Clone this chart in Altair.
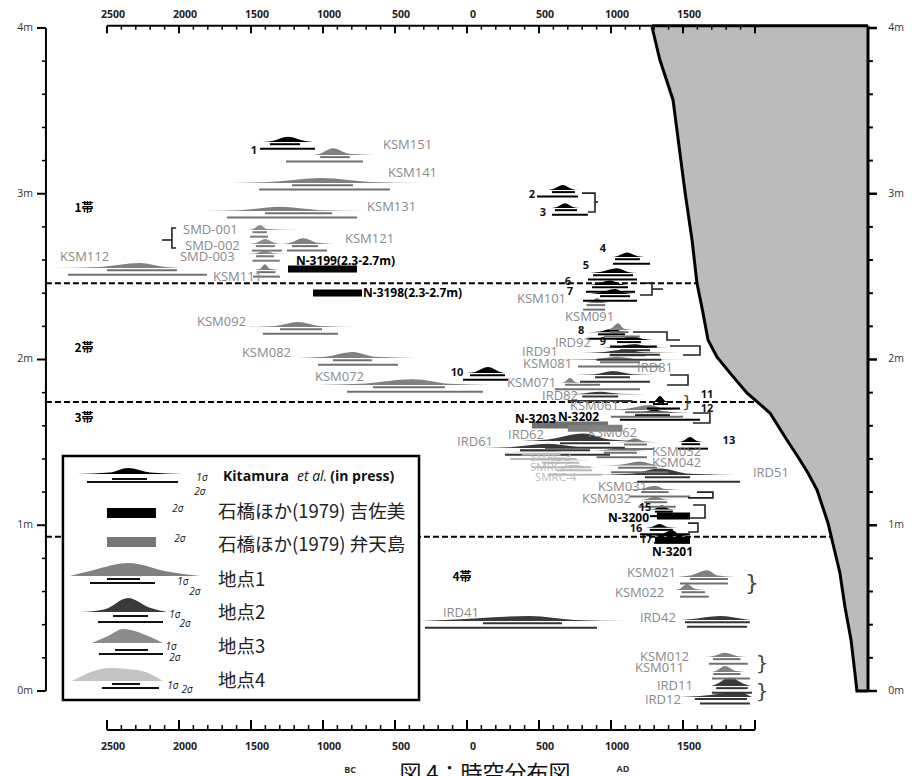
import altair as alt
import pandas as pd

# ---------------- scales (years: BC negative / depth in m) ----------------
XD = [-3243, 3153]
YD = [-0.513, 4.169]
XS = alt.Scale(domain=XD, nice=False, zero=False)
YS = alt.Scale(domain=YD, nice=False, zero=False)

# ---------------- sample data ----------------
s_name = ["1", "2", "3", "4", "5", "6", "7", "8", "9", "10", "11", "12", "13", "15", "16", "17",
          "KSM151", "KSM141", "KSM131", "KSM121", "KSM112", "KSM111", "KSM101", "KSM092", "KSM091",
          "KSM082", "KSM081", "KSM072", "KSM071", "KSM061", "KSM062", "KSM052", "KSM042", "KSM031",
          "KSM032", "KSM021", "KSM022", "KSM012", "KSM011",
          "SMD-001", "SMD-002", "SMD-003",
          "IRD92", "IRD91", "IRD81", "IRD82", "IRD62", "IRD61", "IRD51", "IRD41", "IRD42", "IRD11", "IRD12",
          "SMRC-3", "SMRC-5", "SMRC-4"]
s_group = ["K"] * 16 + ["P1"] * 23 + ["P3"] * 3 + ["P2"] * 11 + ["P4"] * 3
s_base = [3.312, 3.023, 2.914, 2.618, 2.522, 2.449, 2.395, 2.165, 2.118, 1.918, 1.744, 1.677, 1.502, 1.095, 0.985, 0.935,
          3.234, 3.065, 2.896, 2.697, 2.552, 2.540, 2.341, 2.196, 2.178, 2.009, 1.997, 1.846, 1.860, 1.695, 1.500,
          1.450, 1.360, 1.213, 1.152, 0.688, 0.609, 0.205, 0.115,
          2.781, 2.697, 2.636,
          2.069, 2.039, 1.906, 1.790, 1.508, 1.466, 1.303, 0.422, 0.428, 0.030, -0.036,
          1.440, 1.390, 1.345]
s_lo = [-1424, 563, 590, 1007, 854, 840, 854, 833, 1007, -14, 1271, 1111, 1465, 1271, 1236, 1285,
        -1069, -1632, -1840, -1278, -2875, -1472, 819, -1521, 958, -1180, 542, -1042, 646, 924, 1028,
        854, 924, 1097, 1167, 1465, 1451, 1653, 1701,
        -1521, -1507, -1576,
        924, 785, 750, 646, 368, 90, 806, -326, 1479, 1701, 1479,
        194, 368, 507]
s_a = [-1354, 597, 625, 1042, 924, 889, 910, 924, 1062, 56, 1306, 1201, 1500, 1306, 1280, 1340,
       -1020, -1368, -1576, -1229, -2549, -1437, 860, -1333, 1000, -986, 854, -743, 681, 1097, 1097,
       958, 1062, 1201, 1236, 1549, 1479, 1708, 1730,
       -1486, -1465, -1472,
       1007, 924, 889, 785, 563, 299, 1132, -153, 1549, 1730, 1618,
       350, 500, 620]
s_pk = [-1243, 667, 681, 1111, 1042, 993, 1028, 1014, 1146, 146, 1340, 1306, 1549, 1354, 1340, 1424,
        -931, -1007, -1299, -1139, -2271, -1403, 903, -1174, 1049, -792, 1042, -375, 715, 1271, 1167,
        1062, 1201, 1306, 1306, 1667, 1528, 1792, 1792,
        -1437, -1403, -1403,
        1167, 1097, 1014, 924, 806, 563, 1340, 437, 1757, 1826, 1896,
        507, 646, 750]
s_b = [-1125, 729, 736, 1187, 1118, 1076, 1097, 1076, 1222, 229, 1375, 1396, 1597, 1400, 1390, 1480,
       -820, -674, -1021, -1035, -2097, -1368, 950, -1021, 1090, -639, 1201, -118, 750, 1375, 1236,
       1167, 1306, 1375, 1375, 1743, 1583, 1880, 1860,
       -1390, -1333, -1333,
       1271, 1236, 1153, 1062, 993, 785, 1549, 750, 1931, 1931, 1965,
       650, 790, 860]
s_hi = [-1069, 771, 785, 1271, 1181, 1146, 1181, 1132, 1285, 278, 1410, 1549, 1639, 1458, 1465, 1549,
        -583, -312, -708, -931, -1993, -1299, 993, -757, 1167, -361, 1549, 160, 785, 1549, 1340,
        1271, 1410, 1479, 1479, 1861, 1653, 1951, 1931,
        -1160, -1285, -1160,
        1410, 1479, 1306, 1236, 1201, 1062, 1965, 1111, 1979, 1965, 1979,
        854, 924, 993]
s_h = [0.032, 0.03, 0.028, 0.028, 0.028, 0.028, 0.03, 0.022, 0.025, 0.036, 0.035, 0.02, 0.03, 0.025, 0.022, 0.035,
       0.04, 0.03, 0.025, 0.035, 0.03, 0.035, 0.03, 0.03, 0.04, 0.036, 0.02, 0.035, 0.03, 0.03, 0.025,
       0.02, 0.025, 0.025, 0.02, 0.04, 0.036, 0.025, 0.035,
       0.03, 0.03, 0.02,
       0.025, 0.02, 0.025, 0.015, 0.045, 0.025, 0.04, 0.03, 0.025, 0.05, 0.03,
       0.02, 0.02, 0.02]
s_1lo = [-1368, 590, 611, 1028, 875, 868, 924, 910, 1042, 21, 1292, 1167, 1490, 1306, 1270, 1330,
         -1020, -1215, -1403, -1215, -2500, -1460, 830, -1299, 990, -931, 924, -653, 681, 1097, 1090,
         950, 1050, 1210, 1230, 1549, 1490, 1708, 1710,
         -1490, -1465, -1465,
         1062, 990, 889, 800, 646, 368, 1236, 111, 1514, 1730, 1583,
         380, 520, 620]
s_1hi = [-1160, 750, 764, 1201, 1153, 1118, 1132, 1097, 1208, 264, 1396, 1410, 1618, 1430, 1430, 1500,
         -813, -792, -938, -1035, -2014, -1330, 960, -1007, 1120, -660, 1201, -153, 924, 1400, 1250,
         1180, 1320, 1400, 1390, 1812, 1653, 1900, 1900,
         -1390, -1333, -1340,
         1271, 1240, 1132, 1050, 993, 854, 1549, 660, 1965, 1950, 1944,
         650, 780, 870]
s_2lo = [-1437, 486, 590, 1014, 840, 826, 806, 833, 993, -28, 1250, 1062, 1465, 1271, 1201, 1300,
         -1257, -1444, -1667, -1250, -2771, -1486, 806, -1417, 950, -1035, 771, -833, 611, 1000, 1050,
         900, 1000, 1132, 1190, 1479, 1479, 1680, 1701,
         -1507, -1493, -1490,
         993, 900, 785, 700, 542, 264, 1181, -292, 1528, 1701, 1618,
         300, 450, 560]
s_2hi = [-1056, 771, 840, 1271, 1181, 1167, 1181, 1132, 1319, 285, 1479, 1618, 1674, 1479, 1549, 1549,
         -722, -535, -764, -972, -1806, -1299, 960, -896, 1200, -479, 1340, 111, 1201, 1500, 1300,
         1250, 1400, 1549, 1450, 1812, 1680, 1951, 1965,
         -1382, -1285, -1300,
         1340, 1350, 1271, 1150, 1097, 993, 1896, 903, 1944, 1979, 1965,
         760, 860, 940]

shape_col = {"K": "#000000", "P1": "#808080", "P2": "#3a3a3a", "P3": "#8c8c8c", "P4": "#c4c4c4"}
bar_col = {"K": "#000000", "P1": "#707070", "P2": "#333333", "P3": "#7a7a7a", "P4": "#b8b8b8"}

# Ishibashi et al. (1979) 2-sigma ranges
ib_x1 = [-1243, -1069, 1319, 1306, 451, 700]
ib_x2 = [-764, -729, 1549, 1549, 979, 1080]
ib_y = [2.546, 2.401, 1.056, 0.911, 1.605, 1.585]
ib_col = ["#000000", "#000000", "#000000", "#000000", "#707070", "#808080"]

# labels
num_text = ["1", "2", "3", "4", "5", "6", "7", "8", "9", "10", "11", "12", "13", "15", "16", "17"]
num_x = [-1480, 451, 528, 944, 826, 701, 715, 792, 944, -69, 1667, 1667, 1819, 1236, 1174, 1243]
num_y = [3.258, 2.992, 2.884, 2.667, 2.564, 2.47, 2.41, 2.17, 2.106, 1.918, 1.786, 1.70, 1.508, 1.104, 0.977, 0.911]

lab_text = ["KSM151", "KSM141", "KSM131", "KSM121", "KSM112", "KSM111", "KSM101", "KSM092", "KSM091",
            "KSM082", "KSM081", "KSM072", "KSM071", "KSM061", "KSM062", "KSM052", "KSM042", "KSM031",
            "KSM032", "KSM021", "KSM022", "KSM012", "KSM011", "SMD-001", "SMD-002", "SMD-003",
            "IRD92", "IRD91", "IRD81", "IRD82", "IRD62", "IRD61", "IRD51", "IRD41", "IRD42", "IRD11", "IRD12"]
lab_x = [-583, -549, -694, -847, -2826, -1764, 347, -1875, 681,
         -1563, 389, -1056, 278, 715, 840, 1285, 1285, 910,
         799, 1111, 1028, 1201, 1167, -1972, -1958, -1993,
         611, 382, 1181, 521, 285, -69, 1986, -167, 1201, 1319, 1236]
lab_y = [3.294, 3.125, 2.92, 2.727, 2.618, 2.498, 2.365, 2.226, 2.256,
         2.039, 1.973, 1.894, 1.858, 1.72, 1.557, 1.442, 1.376, 1.231,
         1.158, 0.712, 0.591, 0.205, 0.139, 2.781, 2.685, 2.618,
         2.099, 2.045, 1.949, 1.78, 1.544, 1.502, 1.315, 0.471, 0.44, 0.03, -0.054]

smrc_text = ["SMRC-3", "SMRC-5", "SMRC-4"]
smrc_x = [438, 438, 472]
smrc_y = [1.406, 1.345, 1.285]

n_text = ["N-3199(2.3-2.7m)", "N-3198(2.3-2.7m)", "N-3203", "N-3202", "N-3200", "N-3201"]
n_x = [-1188, -722, 333, 632, 979, 1285]
n_y = [2.594, 2.401, 1.641, 1.653, 1.044, 0.839]

band_text = ["1帯", "2帯", "3帯", "4帯"]
band_x = [-2660, -2660, -2660, -35]
band_y = [2.914, 2.069, 1.646, 0.688]

# bracket connectors
br_id = ["smd"] * 4 + ["smd_t"] * 2 + ["b23"] * 4 + ["b23t"] * 2 + ["b67"] * 4 + ["b67t"] * 2 + ["b8"] * 4 + \
        ["b9"] * 4 + ["b81"] * 4 + ["b12"] * 4 + ["b31"] * 4 + ["b15"] * 4 + ["b16"] * 4
br_x = [-2020, -2049, -2049, -2020, -2118, -2049,
        799, 889, 889, 840, 889, 910,
        1236, 1285, 1285, 1201, 1285, 1361,
        1153, 1389, 1389, 1479,
        1410, 1618, 1618, 1500,
        1410, 1535, 1535, 1389,
        1569, 1687, 1687, 1569,
        1597, 1708, 1708, 1535,
        1570, 1653, 1653, 1549,
        1535, 1604, 1604, 1535]
br_y = [2.793, 2.793, 2.673, 2.673, 2.721, 2.721,
        3.004, 3.004, 2.890, 2.890, 2.95, 2.95,
        2.461, 2.461, 2.389, 2.389, 2.425, 2.425,
        2.166, 2.166, 2.118, 2.118,
        2.081, 2.081, 2.027, 2.027,
        1.906, 1.906, 1.846, 1.846,
        1.677, 1.677, 1.617, 1.617,
        1.200, 1.200, 1.165, 1.165,
        1.122, 1.122, 1.044, 1.044,
        1.013, 1.013, 0.959, 0.959]
brace_x = [1530, 1979, 2049, 2049]
brace_y = [1.745, 0.65, 0.165, -0.005]
brace_size = [16, 22, 20, 20]

# sea (grey) boundary curve
curve_x = [1285, 1340, 1431, 1514, 1563, 1597, 1639, 1674, 1736, 1826, 1944, 2104, 2222, 2299, 2368,
           2431, 2507, 2590, 2625, 2667, 2694, 2708, 2785]
curve_y = [4.006, 3.807, 3.566, 3.011, 2.721, 2.462, 2.281, 2.118, 2.015, 1.919, 1.798, 1.677, 1.514,
           1.412, 1.315, 1.213, 1.014, 0.712, 0.507, 0.308, 0.109, 0.0, 0.0]

# zone boundaries (dashed)
zone_y = [2.46, 1.744, 0.93]
zone_end = [1600, 2020, 2530]

# axes
yr_major = [-2500, -2000, -1500, -1000, -500, 0, 500, 1000, 1500, 2000]
yr_labels = ["2500", "2000", "1500", "1000", "500", "0", "500", "1000", "1500"]
yr_minor = [v for v in range(-2500, 2001, 100) if v % 500 != 0]
d_major = [0, 1, 2, 3, 4]
d_labels = ["0m", "1m", "2m", "3m", "4m"]
d_minor = [0.2, 0.4, 0.6, 0.8, 1.2, 1.4, 1.6, 1.8, 2.2, 2.4, 2.6, 2.8, 3.2, 3.4, 3.6, 3.8]

# legend entries
lg_col = ["#000000", "#808080", "#3a3a3a", "#8c8c8c", "#c4c4c4"]
lg_base = [1.309, 0.694, 0.476, 0.289, 0.060]
lg_lo = [-2708, -2757, -2688, -2604, -2743]
lg_a = [-2479, -2597, -2514, -2493, -2569]
lg_pk = [-2354, -2354, -2354, -2389, -2479]
lg_b = [-2201, -2083, -2201, -2215, -2271]
lg_hi = [-1972, -1854, -2083, -2111, -2111]
lg_h = [0.036, 0.078, 0.085, 0.085, 0.079]
lg_sa = [0.25, 0.45, 0.2, 0.5, 0.85]
lg_sb = [0.25, 0.35, 0.3, 0.5, 0.8]
lg_1lo = [-2465, -2500, -2458, -2444, -2465]
lg_1hi = [-2222, -2271, -2215, -2215, -2271]
lg_1y = [1.279, 0.676, 0.452, 0.247, 0.042]
lg_2lo = [-2639, -2618, -2563, -2556, -2535]
lg_2hi = [-2007, -2167, -2111, -2111, -2139]
lg_2y = [1.261, 0.652, 0.416, 0.223, 0.018]
sig_text = ["1σ", "2σ", "2σ", "2σ", "1σ", "2σ", "1σ", "2σ", "1σ", "2σ", "1σ", "2σ"]
sig_x = [-1840, -1854, -2007, -1993, -1972, -1889, -2028, -1958, -2055, -2028, -2042, -1944]
sig_y = [1.285, 1.20, 1.098, 0.917, 0.658, 0.597, 0.458, 0.404, 0.265, 0.199, 0.030, 0.006]
jp_text = ["石橋ほか(1979) 吉佐美", "石橋ほか(1979) 弁天島", "地点1", "地点2", "地点3", "地点4"]
jp_y = [1.080, 0.880, 0.670, 0.470, 0.265, 0.060]


# ---------------- helpers ----------------
def ex(f="x"):
    return alt.X(f"{f}:Q", scale=XS, axis=None)


def ey(f="y"):
    return alt.Y(f"{f}:Q", scale=YS, axis=None, stack=None)


def mountain_df(ids, cols, base, lo, a, pk, b, hi, h, sa, sb):
    rows = []
    for i in range(len(ids)):
        for xx, fr in [(lo[i], 0), (a[i], sa[i]), (pk[i], 1), (b[i], sb[i]), (hi[i], 0)]:
            rows.append(dict(sid=ids[i], x=xx, y=base[i] + fr * h[i], y0=base[i], c=cols[i]))
    return pd.DataFrame(rows)


def area_layer(df):
    return alt.Chart(df).mark_area(interpolate="monotone").encode(
        x=ex(), y=ey(), y2=alt.Y2("y0"), detail="sid:N", color=alt.Color("c:N", scale=None))


def rule_layer(df, **kw):
    return alt.Chart(df).mark_rule(**kw).encode(
        x=ex("x"), x2=alt.X2("x2"), y=ey("y"), y2=alt.Y2("y2"), color=alt.Color("c:N", scale=None),
        size=alt.Size("w:Q", scale=None))


def text_layer(t, x, y, **kw):
    df = pd.DataFrame({"t": t, "x": x, "y": y})
    return alt.Chart(df).mark_text(**kw).encode(x=ex(), y=ey(), text="t:N")


def seg(x1, x2, y1, y2, c, w):
    return dict(x=x1, x2=x2, y=y1, y2=y2, c=c, w=w)


LAT = "Open Sans"
JP = "Noto Sans CJK JP"
layers = []

# dashed zone lines
dash_df = pd.DataFrame([seg(-2924, zone_end[i], zone_y[i], zone_y[i], "#000000", 2) for i in range(3)])
layers.append(rule_layer(dash_df, strokeDash=[6, 3]))

# grey sea area and its boundary
cdf = pd.DataFrame({"x": curve_x, "y": curve_y, "top": [4.012] * len(curve_x), "o": list(range(len(curve_x)))})
layers.append(alt.Chart(cdf).mark_area(color="#bbbbbb").encode(x=ex(), y=ey(), y2=alt.Y2("top")))
layers.append(alt.Chart(cdf).mark_line(color="black", strokeWidth=3).encode(x=ex(), y=ey(), order="o:Q"))

# sample distributions
n = len(s_name)
mdf = mountain_df(s_name, [shape_col[g] for g in s_group], s_base, s_lo, s_a, s_pk, s_b, s_hi, s_h,
                  [0.2] * n, [0.2] * n)
layers.append(area_layer(mdf))
bars = []
for i in range(n):
    c = bar_col[s_group[i]]
    bars.append(seg(s_1lo[i], s_1hi[i], s_base[i] - 0.013, s_base[i] - 0.013, c, 2))
    bars.append(seg(s_2lo[i], s_2hi[i], s_base[i] - 0.04, s_base[i] - 0.04, c, 2))
for i in range(len(ib_x1)):
    bars.append(seg(ib_x1[i], ib_x2[i], ib_y[i], ib_y[i], ib_col[i], 7))
layers.append(rule_layer(pd.DataFrame(bars), strokeCap="butt"))

# brackets
bdf = pd.DataFrame({"b": br_id, "x": br_x, "y": br_y, "o": list(range(len(br_x)))})
layers.append(alt.Chart(bdf).mark_line(color="#222222", strokeWidth=1.6).encode(
    x=ex(), y=ey(), detail="b:N", order="o:Q"))
for i in range(len(brace_x)):
    layers.append(text_layer(["}"], [brace_x[i]], [brace_y[i]], font="DejaVu Sans", fontSize=brace_size[i],
                             color="#444444", align="center", baseline="middle"))

# labels
layers.append(text_layer(lab_text, lab_x, lab_y, font=LAT, fontSize=13, color="#8a8a8a",
                         align="left", baseline="middle"))
layers.append(text_layer(smrc_text, smrc_x, smrc_y, font=LAT, fontSize=11.5, color="#bdbdbd",
                         align="left", baseline="middle"))
layers.append(text_layer(num_text, num_x, num_y, font=LAT, fontSize=11, color="#111111",
                         align="center", baseline="middle", fontWeight="bold"))
layers.append(text_layer(n_text, n_x, n_y, font=LAT, fontSize=12, color="#000000",
                         align="left", baseline="middle", fontWeight="bold"))
layers.append(text_layer(band_text, band_x, band_y, font=JP, fontSize=12, color="#000000",
                         align="center", baseline="middle", fontWeight="bold"))

# axes
ax = []
ax.append(seg(-2500, 1285, 4.014, 4.014, "#000000", 2))
ax.append(seg(1285, 2785, 4.014, 4.014, "#000000", 3))
ax.append(seg(-2500, 2000, -0.235, -0.235, "#000000", 2))
ax.append(seg(-2924, -2924, 0, 4.0, "#000000", 2))
ax.append(seg(2785, 2785, 0, 4.014, "#000000", 3))
for v in yr_major:
    ax.append(seg(v, v, 4.014, 3.968, "#000000", 2))
    ax.append(seg(v, v, -0.235, -0.175, "#000000", 2))
for v in yr_minor:
    ax.append(seg(v, v, 4.014, 3.99, "#000000", 1.5))
    ax.append(seg(v, v, -0.235, -0.205, "#000000", 1.5))
for v in d_major:
    ax.append(seg(-2986, -2924, v, v, "#000000", 2))
    ax.append(seg(2785, 2847, v, v, "#000000", 2.5))
for v in d_minor:
    ax.append(seg(-2952, -2924, v, v, "#000000", 1.5))
    ax.append(seg(2785, 2819, v, v, "#000000", 2))
layers.append(rule_layer(pd.DataFrame(ax), strokeCap="butt"))
layers.append(text_layer(yr_labels, yr_major[:9], [4.08] * 9, font=LAT, fontSize=10.5, color="#222222",
                         align="center", baseline="middle", dx=6, fontWeight="bold"))
layers.append(text_layer(yr_labels, yr_major[:9], [-0.338] * 9, font=LAT, fontSize=10.5, color="#222222",
                         align="center", baseline="middle", dx=6, fontWeight="bold"))
layers.append(text_layer(d_labels, [-3014] * 5, d_major, font=LAT, fontSize=10.5, color="#333333",
                         align="right", baseline="middle"))
layers.append(text_layer(d_labels, [2925] * 5, d_major, font=LAT, fontSize=10.5, color="#333333",
                         align="left", baseline="middle"))
layers.append(text_layer(["BC", "AD"], [-812, 1083], [-0.475, -0.47], font=LAT, fontSize=9,
                         color="#333333", align="center", baseline="middle", fontWeight="bold"))
layers.append(text_layer(["図 4：時空分布図"], [125], [-0.50], font=JP, fontSize=22, color="#111111",
                         align="center", baseline="middle"))

# legend
box = pd.DataFrame({"x": [-2806], "x2": [-333], "y": [-0.054], "y2": [1.418]})
layers.append(alt.Chart(box).mark_rect(fill="white", stroke="black", strokeWidth=2.5).encode(
    x=ex(), x2=alt.X2("x2"), y=ey(), y2=alt.Y2("y2")))
ldf = mountain_df(["L%d" % i for i in range(5)], lg_col, lg_base, lg_lo, lg_a, lg_pk, lg_b, lg_hi, lg_h,
                  lg_sa, lg_sb)
layers.append(area_layer(ldf))
lbars = []
for i in range(5):
    lbars.append(seg(lg_1lo[i], lg_1hi[i], lg_1y[i], lg_1y[i], "#111111", 2))
    lbars.append(seg(lg_2lo[i], lg_2hi[i], lg_2y[i], lg_2y[i], "#111111", 2))
layers.append(rule_layer(pd.DataFrame(lbars), strokeCap="butt"))
lrect = pd.DataFrame({"x": [-2500, -2500], "x2": [-2160, -2160], "y": [1.044, 0.868], "y2": [1.104, 0.929],
                      "c": ["#000000", "#767676"]})
layers.append(alt.Chart(lrect).mark_rect().encode(x=ex(), x2=alt.X2("x2"), y=ey(), y2=alt.Y2("y2"),
                                                  color=alt.Color("c:N", scale=None)))
layers.append(text_layer(sig_text, sig_x, sig_y, font=LAT, fontSize=10, color="#111111",
                         align="center", baseline="middle", fontStyle="italic"))
layers.append(text_layer(["Kitamura", "(in press)"], [-1694, -950], [1.29, 1.29], font=LAT, fontSize=14,
                         color="#111111", align="left", baseline="middle", fontWeight="bold"))
layers.append(text_layer(["et al."], [-1181], [1.29], font=LAT, fontSize=14, color="#111111",
                         align="left", baseline="middle", fontStyle="italic"))
layers.append(text_layer(jp_text, [-1729] * 6, jp_y, font=JP, fontSize=18.5, color="#222222",
                         align="left", baseline="middle"))

chart = alt.layer(*layers).properties(
    width=921, height=776, padding=0, autosize=alt.AutoSizeParams(type="none"), background="white"
).configure_view(stroke=None)

chart.save("out.html", embed_options={"renderer": "svg", "actions": False})
